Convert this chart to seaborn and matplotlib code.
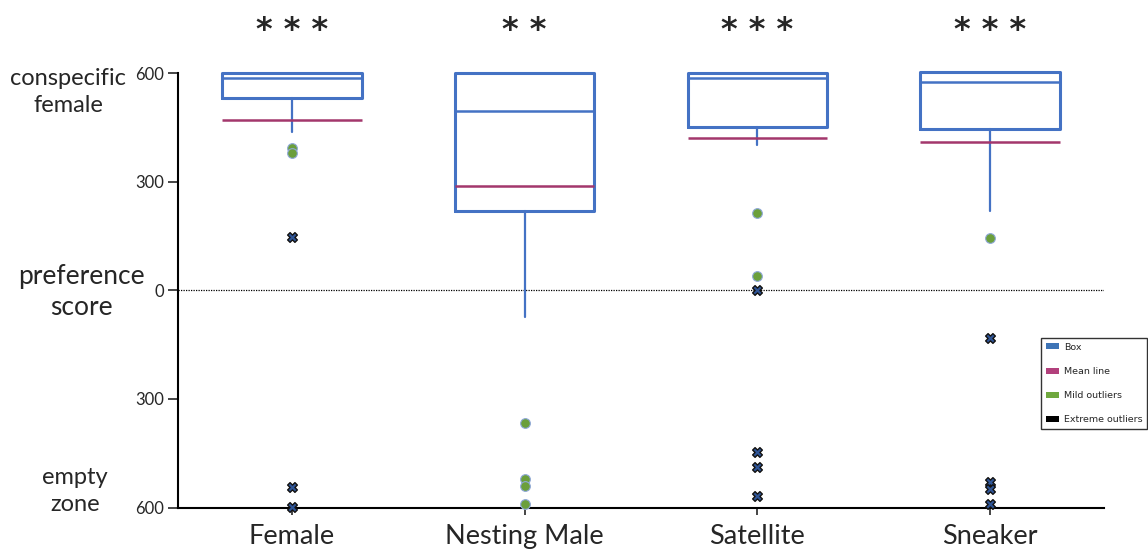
import numpy as np
import pandas as pd
import matplotlib
matplotlib.use("Agg")
import matplotlib.pyplot as plt
from matplotlib.patches import Patch
import seaborn as sns

# ---- data ----
categories = ["Female", "Nesting Male", "Satellite", "Sneaker"]
q1 = [530, 220, 452, 444]
medians = [587, 494, 585, 576]
q3 = [600, 600, 600, 604]
whisker_low = [436, -75, 402, 218]
whisker_high = [600, 600, 600, 604]
means = [470, 289, 421, 409]

mild_group = ["Female", "Female", "Nesting Male", "Nesting Male", "Nesting Male",
              "Nesting Male", "Satellite", "Satellite", "Sneaker"]
mild_values = [393, 380, -368, -522, -542, -590, 213, 38, 143]

extreme_group = ["Female", "Female", "Female", "Satellite", "Satellite", "Satellite",
                 "Satellite", "Sneaker", "Sneaker", "Sneaker", "Sneaker"]
extreme_values = [147, -544, -599, 0, -447, -489, -568, -133, -530, -549, -590]

significance = ["* * *", "* *", "* * *", "* * *"]
ytick_values = [-600, -300, 0, 300, 600]
ytick_labels = ["600", "300", "0", "300", "600"]

# ---- style ----
sns.set_style("white")
plt.rcParams["font.family"] = ["Lato", "DejaVu Sans"]

BLUE = "#4472C4"
PURPLE = "#A3376C"
GREEN = "#6B9F3B"

fig = plt.figure(figsize=(11.48, 5.52), dpi=100)
ax = fig.add_axes([178 / 1148, 1 - 507.5 / 552, (1104 - 178) / 1148, (507.5 - 73) / 552])

stats = []
for i, c in enumerate(categories):
    stats.append(dict(label=c, q1=q1[i], med=medians[i], q3=q3[i],
                      whislo=whisker_low[i], whishi=whisker_high[i],
                      mean=means[i], fliers=[]))

arts = ax.bxp(stats, positions=range(len(categories)), widths=0.6,
              showmeans=True, meanline=True, showcaps=False, showfliers=False,
              boxprops=dict(color=BLUE, linewidth=2.2),
              medianprops=dict(color=BLUE, linewidth=1.8),
              whiskerprops=dict(color=BLUE, linewidth=1.6),
              meanprops=dict(color=PURPLE, linewidth=1.8, linestyle="-"),
              manage_ticks=False)
for key, lst in arts.items():
    for a in lst:
        a.set_clip_on(False)

mild_df = pd.DataFrame({"group": mild_group, "value": mild_values})
ext_df = pd.DataFrame({"group": extreme_group, "value": extreme_values})

sns.stripplot(data=mild_df, x="group", y="value", order=categories, jitter=False,
              color=GREEN, size=7, linewidth=0.8, edgecolor="#8FA8D8",
              marker="o", ax=ax, zorder=5, clip_on=False)
sns.stripplot(data=ext_df, x="group", y="value", order=categories, jitter=False,
              color="#2F5597", size=7, linewidth=1.0, edgecolor="#111111",
              marker="X", ax=ax, zorder=6, clip_on=False)

ax.axhline(0, color="black", linestyle=(0, (1, 1)), linewidth=0.9, zorder=1)

ax.set_xlim(-0.49, 3.49)
ax.set_ylim(-600, 600)
ax.set_yticks(ytick_values)
ax.set_yticklabels(ytick_labels)
ax.set_xticks(range(len(categories)))
ax.set_xticklabels(categories, fontsize=19.5)
ax.set_xlabel("")
ax.set_ylabel("")
ax.tick_params(axis="y", length=7, width=1.2, pad=3, labelsize=12, direction="out", left=True)
ax.tick_params(axis="x", length=5, width=1.2, pad=7, direction="out", bottom=True)
for s in ["top", "right"]:
    ax.spines[s].set_visible(False)
for s in ["left", "bottom"]:
    ax.spines[s].set_color("black")
    ax.spines[s].set_linewidth(1.5)

for i, s in enumerate(significance):
    ax.text(i, 718, s, ha="center", va="center", fontsize=23, fontweight="bold",
            family=["DejaVu Sans"], clip_on=False)

fig.text(68 / 1148, 1 - 92 / 552, "conspecific\nfemale", ha="center", va="center",
         fontsize=17, linespacing=1.3)
fig.text(81 / 1148, 1 - 292 / 552, "preference\nscore", ha="center", va="center",
         fontsize=19, linespacing=1.3)
fig.text(75 / 1148, 1 - 491 / 552, "empty\nzone", ha="center", va="center",
         fontsize=17, linespacing=1.35)

handles = [Patch(facecolor="#3E74B6", edgecolor="none", label="Box"),
           Patch(facecolor="#B2407C", edgecolor="none", label="Mean line"),
           Patch(facecolor="#6FA83E", edgecolor="none", label="Mild outliers"),
           Patch(facecolor="black", edgecolor="none", label="Extreme outliers")]
leg = fig.legend(handles=handles, loc="upper right", bbox_to_anchor=(1147 / 1148, 1 - 338 / 552),
                 prop=dict(family="DejaVu Sans", size=6.8), frameon=True, fancybox=False,
                 handlelength=1.4, handleheight=0.6, labelspacing=1.6, borderpad=0.5,
                 handletextpad=0.5, borderaxespad=0)
leg.get_frame().set_edgecolor("black")
leg.get_frame().set_linewidth(1.0)

fig.savefig("out.png", dpi=100)
